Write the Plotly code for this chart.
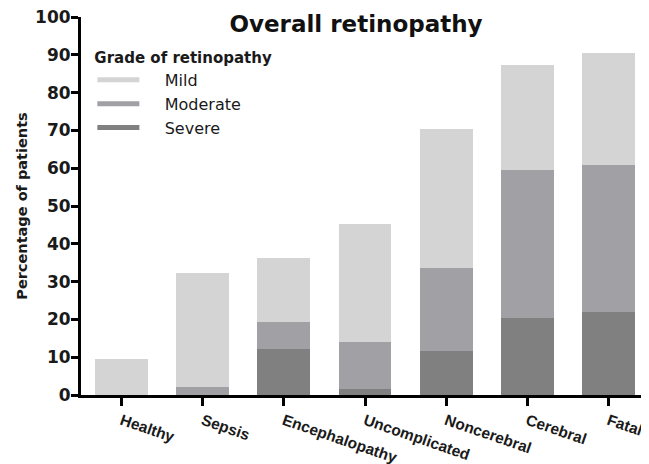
import plotly.graph_objects as go

groups = ["Healthy", "Sepsis", "Encephalopathy", "Uncomplicated",
          "Noncerebral", "Cerebral", "Fatal"]
# segment heights (percent of patients)
severe = [0, 0, 12.1, 1.5, 11.6, 20.3, 21.9]
moderate = [0, 2.0, 7.3, 12.6, 21.9, 39.2, 38.9]
mild = [9.4, 30.4, 16.9, 31.2, 36.8, 27.8, 29.8]

grades = ["Mild", "Moderate", "Severe"]
colors = {"Mild": "#d4d4d4", "Moderate": "#a1a1a5", "Severe": "#808080"}
values = {"Mild": mild, "Moderate": moderate, "Severe": severe}

fig = go.Figure()
for g in ["Severe", "Moderate", "Mild"]:
    fig.add_trace(go.Bar(x=groups, y=values[g], name=g, marker_color=colors[g],
                         marker_line_width=0, width=0.65, showlegend=False))
# legend entries drawn as short thick lines
pad = "\u00a0" * 4
for g in grades:
    fig.add_trace(go.Scatter(x=[None], y=[None], mode="lines", name=pad + g,
                             line=dict(color=colors[g], width=5)))

# the page body adds an 8px offset, so the figure is 8px smaller
W, H = 641, 456
fig.update_layout(
    barmode="stack",
    width=W, height=H,
    margin=dict(l=73, r=0, t=9, b=69),
    plot_bgcolor="white", paper_bgcolor="white",
    font=dict(family="DejaVu Sans, Liberation Sans, Arial", color="#1a1a1a"),
    title=dict(text="<b>Overall retinopathy</b>", x=348 / W, xref="container",
               xanchor="center", y=1 - 16 / H, yref="container",
               yanchor="middle", font=dict(size=23, color="#111")),
    legend=dict(x=0.02, y=0.93, xanchor="left", yanchor="top",
                traceorder="normal",
                title=dict(text="<b>Grade of retinopathy</b>", font=dict(size=15)),
                font=dict(size=16), itemwidth=42, tracegroupgap=0,
                bgcolor="rgba(0,0,0,0)"),
    xaxis=dict(range=[-0.5, 6.5], showline=True, linecolor="black", linewidth=3,
               ticks="outside", ticklen=8, tickwidth=3, tickcolor="black",
               tickangle=19, automargin=False, ticklabelstandoff=0,
               ticklabeloverflow="allow",
               tickfont=dict(family="Liberation Sans, Arial", size=15.5,
                             weight="bold"),
               showgrid=False),
    yaxis=dict(range=[0, 100], dtick=10, showline=True, linecolor="black",
               linewidth=3, ticks="outside", ticklen=7, tickwidth=3,
               tickcolor="black", automargin=False, ticklabelstandoff=-3,
               ticklabeloverflow="allow",
               tickfont=dict(size=17, weight="bold"), showgrid=False,
               zeroline=False,
               title=dict(text="<b>Percentage of patients</b>",
                          font=dict(size=14.5), standoff=5)),
)

fig.write_html("out.html")
